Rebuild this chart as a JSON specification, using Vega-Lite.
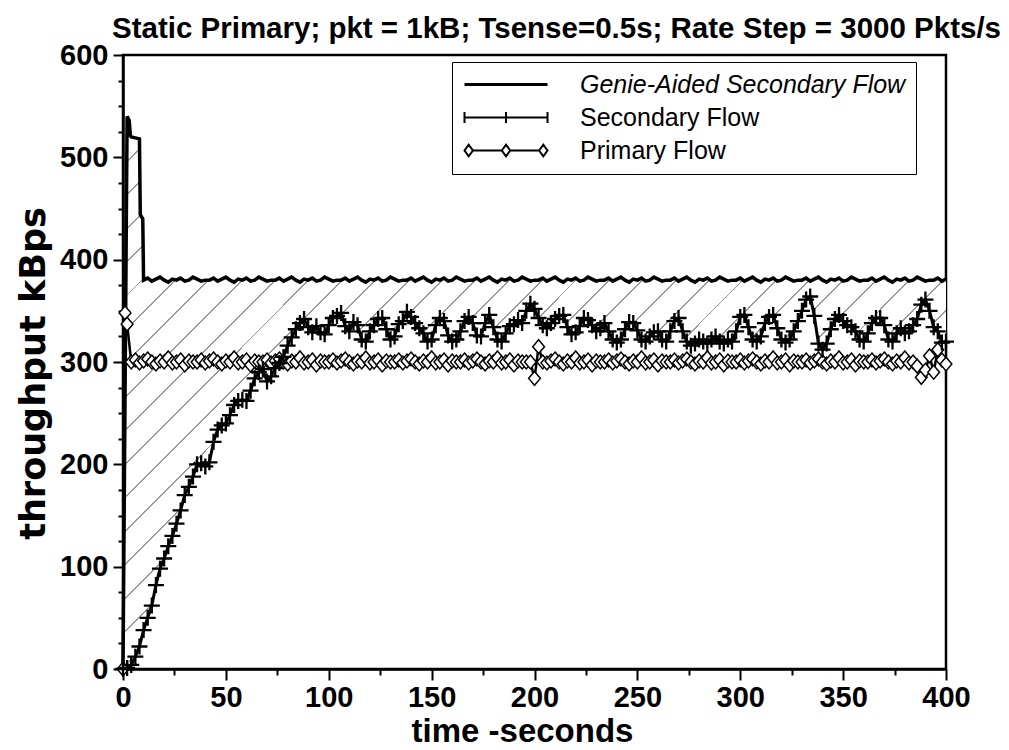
{
  "$schema": "https://vega.github.io/schema/vega-lite/v6.json",
  "width": 823,
  "height": 614,
  "autosize": {"type": "none"},
  "padding": {"left": 123, "top": 55, "right": 63, "bottom": 81},
  "background": "white",
  "title": {"text": "Static Primary; pkt = 1kB; Tsense=0.5s; Rate Step = 3000 Pkts/s", "font": "Liberation Sans", "fontSize": 29.5, "fontWeight": "bold", "color": "black", "anchor": "middle", "dx": 22, "offset": -3},
  "config": {
    "view": {"stroke": "black", "strokeWidth": 2.5},
    "mark": {"invalid": "filter"},
    "axis": {"grid": false, "domainColor": "black", "domainWidth": 2.5, "tickColor": "black", "tickWidth": 2, "labelFont": "Liberation Sans", "labelFontSize": 29, "labelFontWeight": "bold", "labelColor": "black", "labelFlush": false, "labelOverlap": false, "titleColor": "black", "titleFontWeight": "bold"},
    "axisX": {"labelPadding": 3, "titleFont": "Liberation Sans", "titleFontSize": 33, "titlePadding": 3, "titleX": 399},
    "axisY": {"labelPadding": 5, "titleFont": "DejaVu Sans", "titleFontSize": 35, "titlePadding": 8, "titleY": 318}
  },
  "datasets": {
    "main": [
      {"time":0,"genie":0,"secondary":0,"primary":0},
      {"time":1,"primary":348},
      {"time":2,"genie":540,"secondary":1,"primary":337},
      {"time":3,"genie":536},
      {"time":3.6,"genie":521},
      {"time":4,"genie":520,"secondary":4,"primary":300},
      {"time":6,"genie":519,"secondary":12,"primary":302},
      {"time":8,"genie":518,"secondary":22,"primary":299},
      {"time":8.4,"genie":444},
      {"time":9.6,"genie":440},
      {"time":10,"genie":380,"secondary":38,"primary":301},
      {"time":12,"genie":382,"secondary":50,"primary":303},
      {"time":14,"genie":379,"secondary":62,"primary":300},
      {"time":16,"genie":381,"secondary":82,"primary":298},
      {"time":18,"genie":383,"secondary":98,"primary":301},
      {"time":20,"genie":380,"secondary":108,"primary":300},
      {"time":22,"genie":378,"secondary":120,"primary":304},
      {"time":24,"genie":381,"secondary":130,"primary":299},
      {"time":26,"genie":380,"secondary":142,"primary":300},
      {"time":28,"genie":382,"secondary":155,"primary":302},
      {"time":30,"genie":379,"secondary":170,"primary":297},
      {"time":32,"genie":380,"secondary":178,"primary":301},
      {"time":34,"genie":383,"secondary":188,"primary":300},
      {"time":36,"genie":381,"secondary":200,"primary":300},
      {"time":38,"genie":379,"secondary":201,"primary":302},
      {"time":40,"genie":380,"secondary":198,"primary":299},
      {"time":42,"genie":380,"secondary":202,"primary":301},
      {"time":44,"genie":382,"secondary":222,"primary":303},
      {"time":46,"genie":379,"secondary":234,"primary":300},
      {"time":48,"genie":381,"secondary":238,"primary":298},
      {"time":50,"genie":383,"secondary":240,"primary":301},
      {"time":52,"genie":380,"secondary":248,"primary":300},
      {"time":54,"genie":378,"secondary":258,"primary":304},
      {"time":56,"genie":381,"secondary":262,"primary":299},
      {"time":58,"genie":380,"secondary":263,"primary":300},
      {"time":60,"genie":382,"secondary":262,"primary":302},
      {"time":62,"genie":379,"secondary":272,"primary":297},
      {"time":64,"genie":380,"secondary":284,"primary":301},
      {"time":66,"genie":383,"secondary":290,"primary":300},
      {"time":68,"genie":381,"secondary":293,"primary":300},
      {"time":70,"genie":379,"secondary":281,"primary":302},
      {"time":72,"genie":380,"secondary":286,"primary":299},
      {"time":74,"genie":380,"secondary":294,"primary":301},
      {"time":76,"genie":382,"secondary":299,"primary":303},
      {"time":78,"genie":379,"secondary":305,"primary":300},
      {"time":80,"genie":381,"secondary":316,"primary":298},
      {"time":82,"genie":383,"secondary":324,"primary":301},
      {"time":84,"genie":380,"secondary":332,"primary":300},
      {"time":86,"genie":378,"secondary":338,"primary":304},
      {"time":88,"genie":381,"secondary":342,"primary":299},
      {"time":90,"genie":380,"secondary":334,"primary":300},
      {"time":92,"genie":382,"secondary":329,"primary":302},
      {"time":94,"genie":379,"secondary":335,"primary":297},
      {"time":96,"genie":380,"secondary":329,"primary":301},
      {"time":98,"genie":383,"secondary":327,"primary":300},
      {"time":100,"genie":381,"secondary":336,"primary":300},
      {"time":102,"genie":379,"secondary":343,"primary":302},
      {"time":104,"genie":380,"secondary":345,"primary":299},
      {"time":106,"genie":380,"secondary":348,"primary":301},
      {"time":108,"genie":382,"secondary":335,"primary":303},
      {"time":110,"genie":379,"secondary":330,"primary":300},
      {"time":112,"genie":381,"secondary":339,"primary":298},
      {"time":114,"genie":383,"secondary":336,"primary":301},
      {"time":116,"genie":380,"secondary":322,"primary":300},
      {"time":118,"genie":378,"secondary":320,"primary":304},
      {"time":120,"genie":381,"secondary":330,"primary":299},
      {"time":122,"genie":380,"secondary":336,"primary":300},
      {"time":124,"genie":382,"secondary":342,"primary":302},
      {"time":126,"genie":379,"secondary":343,"primary":297},
      {"time":128,"genie":380,"secondary":332,"primary":301},
      {"time":130,"genie":383,"secondary":322,"primary":300},
      {"time":132,"genie":381,"secondary":325,"primary":300},
      {"time":134,"genie":379,"secondary":337,"primary":302},
      {"time":136,"genie":380,"secondary":340,"primary":299},
      {"time":138,"genie":380,"secondary":349,"primary":301},
      {"time":140,"genie":382,"secondary":344,"primary":303},
      {"time":142,"genie":379,"secondary":338,"primary":300},
      {"time":144,"genie":381,"secondary":333,"primary":298},
      {"time":146,"genie":383,"secondary":328,"primary":301},
      {"time":148,"genie":380,"secondary":320,"primary":300},
      {"time":150,"genie":378,"secondary":322,"primary":304},
      {"time":152,"genie":381,"secondary":336,"primary":299},
      {"time":154,"genie":380,"secondary":343,"primary":300},
      {"time":156,"genie":382,"secondary":340,"primary":302},
      {"time":158,"genie":379,"secondary":326,"primary":297},
      {"time":160,"genie":380,"secondary":320,"primary":301},
      {"time":162,"genie":383,"secondary":322,"primary":300},
      {"time":164,"genie":381,"secondary":330,"primary":300},
      {"time":166,"genie":379,"secondary":340,"primary":302},
      {"time":168,"genie":380,"secondary":344,"primary":299},
      {"time":170,"genie":380,"secondary":338,"primary":301},
      {"time":172,"genie":382,"secondary":326,"primary":303},
      {"time":174,"genie":379,"secondary":325,"primary":300},
      {"time":176,"genie":381,"secondary":338,"primary":298},
      {"time":178,"genie":383,"secondary":346,"primary":301},
      {"time":180,"genie":380,"secondary":334,"primary":300},
      {"time":182,"genie":378,"secondary":322,"primary":304},
      {"time":184,"genie":381,"secondary":320,"primary":299},
      {"time":186,"genie":380,"secondary":328,"primary":300},
      {"time":188,"genie":382,"secondary":335,"primary":302},
      {"time":190,"genie":379,"secondary":337,"primary":297},
      {"time":192,"genie":380,"secondary":341,"primary":301},
      {"time":194,"genie":383,"secondary":338,"primary":300},
      {"time":196,"genie":381,"secondary":350,"primary":300},
      {"time":198,"genie":379,"secondary":357,"primary":300},
      {"time":200,"genie":380,"secondary":352,"primary":284},
      {"time":202,"genie":380,"secondary":343,"primary":315},
      {"time":204,"genie":382,"secondary":336,"primary":300},
      {"time":206,"genie":379,"secondary":333,"primary":299},
      {"time":208,"genie":381,"secondary":338,"primary":301},
      {"time":210,"genie":383,"secondary":342,"primary":303},
      {"time":212,"genie":380,"secondary":345,"primary":300},
      {"time":214,"genie":378,"secondary":346,"primary":298},
      {"time":216,"genie":381,"secondary":334,"primary":301},
      {"time":218,"genie":380,"secondary":327,"primary":300},
      {"time":220,"genie":382,"secondary":329,"primary":304},
      {"time":222,"genie":379,"secondary":335,"primary":299},
      {"time":224,"genie":380,"secondary":343,"primary":300},
      {"time":226,"genie":383,"secondary":341,"primary":302},
      {"time":228,"genie":381,"secondary":336,"primary":297},
      {"time":230,"genie":379,"secondary":330,"primary":301},
      {"time":232,"genie":380,"secondary":333,"primary":300},
      {"time":234,"genie":380,"secondary":338,"primary":300},
      {"time":236,"genie":382,"secondary":330,"primary":302},
      {"time":238,"genie":379,"secondary":322,"primary":299},
      {"time":240,"genie":381,"secondary":319,"primary":301},
      {"time":242,"genie":383,"secondary":322,"primary":303},
      {"time":244,"genie":380,"secondary":332,"primary":300},
      {"time":246,"genie":378,"secondary":339,"primary":298},
      {"time":248,"genie":381,"secondary":338,"primary":301},
      {"time":250,"genie":380,"secondary":331,"primary":300},
      {"time":252,"genie":382,"secondary":322,"primary":304},
      {"time":254,"genie":379,"secondary":320,"primary":299},
      {"time":256,"genie":380,"secondary":325,"primary":300},
      {"time":258,"genie":383,"secondary":329,"primary":302},
      {"time":260,"genie":381,"secondary":330,"primary":297},
      {"time":262,"genie":379,"secondary":322,"primary":301},
      {"time":264,"genie":380,"secondary":320,"primary":300},
      {"time":266,"genie":380,"secondary":330,"primary":300},
      {"time":268,"genie":382,"secondary":340,"primary":302},
      {"time":270,"genie":379,"secondary":343,"primary":299},
      {"time":272,"genie":381,"secondary":330,"primary":301},
      {"time":274,"genie":383,"secondary":320,"primary":303},
      {"time":276,"genie":380,"secondary":316,"primary":300},
      {"time":278,"genie":378,"secondary":318,"primary":298},
      {"time":280,"genie":381,"secondary":322,"primary":301},
      {"time":282,"genie":380,"secondary":320,"primary":300},
      {"time":284,"genie":382,"secondary":318,"primary":304},
      {"time":286,"genie":379,"secondary":322,"primary":299},
      {"time":288,"genie":380,"secondary":325,"primary":300},
      {"time":290,"genie":383,"secondary":320,"primary":302},
      {"time":292,"genie":381,"secondary":318,"primary":297},
      {"time":294,"genie":379,"secondary":322,"primary":301},
      {"time":296,"genie":380,"secondary":320,"primary":300},
      {"time":298,"genie":380,"secondary":330,"primary":300},
      {"time":300,"genie":382,"secondary":344,"primary":302},
      {"time":302,"genie":379,"secondary":346,"primary":299},
      {"time":304,"genie":381,"secondary":334,"primary":301},
      {"time":306,"genie":383,"secondary":322,"primary":303},
      {"time":308,"genie":380,"secondary":320,"primary":300},
      {"time":310,"genie":378,"secondary":325,"primary":298},
      {"time":312,"genie":381,"secondary":338,"primary":301},
      {"time":314,"genie":380,"secondary":344,"primary":300},
      {"time":316,"genie":382,"secondary":346,"primary":304},
      {"time":318,"genie":379,"secondary":333,"primary":299},
      {"time":320,"genie":380,"secondary":322,"primary":300},
      {"time":322,"genie":383,"secondary":319,"primary":302},
      {"time":324,"genie":381,"secondary":322,"primary":297},
      {"time":326,"genie":379,"secondary":330,"primary":301},
      {"time":328,"genie":380,"secondary":340,"primary":300},
      {"time":330,"genie":380,"secondary":350,"primary":300},
      {"time":332,"genie":382,"secondary":361,"primary":302},
      {"time":334,"genie":379,"secondary":364,"primary":299},
      {"time":336,"genie":381,"secondary":345,"primary":301},
      {"time":338,"genie":383,"secondary":318,"primary":303},
      {"time":340,"genie":380,"secondary":312,"primary":300},
      {"time":342,"genie":378,"secondary":318,"primary":298},
      {"time":344,"genie":381,"secondary":332,"primary":301},
      {"time":346,"genie":380,"secondary":342,"primary":300},
      {"time":348,"genie":382,"secondary":346,"primary":304},
      {"time":350,"genie":379,"secondary":340,"primary":299},
      {"time":352,"genie":380,"secondary":336,"primary":300},
      {"time":354,"genie":383,"secondary":334,"primary":302},
      {"time":356,"genie":381,"secondary":330,"primary":297},
      {"time":358,"genie":379,"secondary":322,"primary":301},
      {"time":360,"genie":380,"secondary":320,"primary":300},
      {"time":362,"genie":380,"secondary":328,"primary":300},
      {"time":364,"genie":382,"secondary":338,"primary":302},
      {"time":366,"genie":379,"secondary":343,"primary":299},
      {"time":368,"genie":381,"secondary":343,"primary":301},
      {"time":370,"genie":383,"secondary":336,"primary":303},
      {"time":372,"genie":380,"secondary":322,"primary":300},
      {"time":374,"genie":378,"secondary":320,"primary":298},
      {"time":376,"genie":381,"secondary":328,"primary":301},
      {"time":378,"genie":380,"secondary":333,"primary":300},
      {"time":380,"genie":382,"secondary":328,"primary":304},
      {"time":382,"genie":379,"secondary":330,"primary":299},
      {"time":384,"genie":380,"secondary":336,"primary":300},
      {"time":386,"genie":383,"secondary":342,"primary":296},
      {"time":388,"genie":381,"secondary":356,"primary":285},
      {"time":390,"genie":379,"secondary":361,"primary":292},
      {"time":392,"genie":380,"secondary":350,"primary":306},
      {"time":394,"genie":380,"secondary":334,"primary":290},
      {"time":396,"genie":382,"secondary":330,"primary":312},
      {"time":398,"genie":379,"secondary":319,"primary":302},
      {"time":400,"genie":381,"secondary":320,"primary":298}
    ],
    "legendRows": [
      {"series": "Genie-Aided Secondary Flow"},
      {"series": "Secondary Flow"},
      {"series": "Primary Flow"}
    ]
  },
  "data": {"name": "main"},
  "encoding": {
    "x": {"field": "time", "type": "quantitative", "scale": {"domain": [0, 400], "nice": false, "zero": false},
      "axis": {"title": "time -seconds", "values": [0,25,50,75,100,125,150,175,200,225,250,275,300,325,350,375,400], "labelExpr": "datum.value % 50 === 0 ? datum.label : ''", "tickSize": {"condition": {"test": "datum.value % 50 === 0", "value": 11}, "value": 6}}}
  },
  "layer": [
    {
      "mark": {"type": "area", "interpolate": "linear", "fill": {"gradient": "linear", "x1": 0, "y1": 0, "x2": 1, "y2": 0.67, "stops": [
        {"offset":0.012,"color":"#ffffff"},{"offset":0.012,"color":"#999999"},{"offset":0.0136,"color":"#999999"},{"offset":0.0136,"color":"#ffffff"},
        {"offset":0.040,"color":"#ffffff"},{"offset":0.040,"color":"#999999"},{"offset":0.0416,"color":"#999999"},{"offset":0.0416,"color":"#ffffff"},
        {"offset":0.068,"color":"#ffffff"},{"offset":0.068,"color":"#999999"},{"offset":0.0696,"color":"#999999"},{"offset":0.0696,"color":"#ffffff"},
        {"offset":0.096,"color":"#ffffff"},{"offset":0.096,"color":"#999999"},{"offset":0.0976,"color":"#999999"},{"offset":0.0976,"color":"#ffffff"},
        {"offset":0.124,"color":"#ffffff"},{"offset":0.124,"color":"#999999"},{"offset":0.1256,"color":"#999999"},{"offset":0.1256,"color":"#ffffff"},
        {"offset":0.152,"color":"#ffffff"},{"offset":0.152,"color":"#999999"},{"offset":0.1536,"color":"#999999"},{"offset":0.1536,"color":"#ffffff"},
        {"offset":0.180,"color":"#ffffff"},{"offset":0.180,"color":"#999999"},{"offset":0.1816,"color":"#999999"},{"offset":0.1816,"color":"#ffffff"},
        {"offset":0.208,"color":"#ffffff"},{"offset":0.208,"color":"#999999"},{"offset":0.2096,"color":"#999999"},{"offset":0.2096,"color":"#ffffff"},
        {"offset":0.236,"color":"#ffffff"},{"offset":0.236,"color":"#999999"},{"offset":0.2376,"color":"#999999"},{"offset":0.2376,"color":"#ffffff"},
        {"offset":0.264,"color":"#ffffff"},{"offset":0.264,"color":"#999999"},{"offset":0.2656,"color":"#999999"},{"offset":0.2656,"color":"#ffffff"},
        {"offset":0.292,"color":"#ffffff"},{"offset":0.292,"color":"#999999"},{"offset":0.2936,"color":"#999999"},{"offset":0.2936,"color":"#ffffff"},
        {"offset":0.320,"color":"#ffffff"},{"offset":0.320,"color":"#999999"},{"offset":0.3216,"color":"#999999"},{"offset":0.3216,"color":"#ffffff"},
        {"offset":0.348,"color":"#ffffff"},{"offset":0.348,"color":"#999999"},{"offset":0.3496,"color":"#999999"},{"offset":0.3496,"color":"#ffffff"},
        {"offset":0.376,"color":"#ffffff"},{"offset":0.376,"color":"#999999"},{"offset":0.3776,"color":"#999999"},{"offset":0.3776,"color":"#ffffff"},
        {"offset":0.404,"color":"#ffffff"},{"offset":0.404,"color":"#999999"},{"offset":0.4056,"color":"#999999"},{"offset":0.4056,"color":"#ffffff"},
        {"offset":0.432,"color":"#ffffff"},{"offset":0.432,"color":"#999999"},{"offset":0.4336,"color":"#999999"},{"offset":0.4336,"color":"#ffffff"},
        {"offset":0.460,"color":"#ffffff"},{"offset":0.460,"color":"#999999"},{"offset":0.4616,"color":"#999999"},{"offset":0.4616,"color":"#ffffff"},
        {"offset":0.488,"color":"#ffffff"},{"offset":0.488,"color":"#999999"},{"offset":0.4896,"color":"#999999"},{"offset":0.4896,"color":"#ffffff"},
        {"offset":0.516,"color":"#ffffff"},{"offset":0.516,"color":"#999999"},{"offset":0.5176,"color":"#999999"},{"offset":0.5176,"color":"#ffffff"},
        {"offset":0.544,"color":"#ffffff"},{"offset":0.544,"color":"#999999"},{"offset":0.5456,"color":"#999999"},{"offset":0.5456,"color":"#ffffff"},
        {"offset":0.572,"color":"#ffffff"},{"offset":0.572,"color":"#999999"},{"offset":0.5736,"color":"#999999"},{"offset":0.5736,"color":"#ffffff"},
        {"offset":0.600,"color":"#ffffff"},{"offset":0.600,"color":"#999999"},{"offset":0.6016,"color":"#999999"},{"offset":0.6016,"color":"#ffffff"},
        {"offset":0.628,"color":"#ffffff"},{"offset":0.628,"color":"#999999"},{"offset":0.6296,"color":"#999999"},{"offset":0.6296,"color":"#ffffff"},
        {"offset":0.656,"color":"#ffffff"},{"offset":0.656,"color":"#999999"},{"offset":0.6576,"color":"#999999"},{"offset":0.6576,"color":"#ffffff"},
        {"offset":0.684,"color":"#ffffff"},{"offset":0.684,"color":"#999999"},{"offset":0.6856,"color":"#999999"},{"offset":0.6856,"color":"#ffffff"},
        {"offset":0.712,"color":"#ffffff"},{"offset":0.712,"color":"#999999"},{"offset":0.7136,"color":"#999999"},{"offset":0.7136,"color":"#ffffff"},
        {"offset":0.740,"color":"#ffffff"},{"offset":0.740,"color":"#999999"},{"offset":0.7416,"color":"#999999"},{"offset":0.7416,"color":"#ffffff"},
        {"offset":0.768,"color":"#ffffff"},{"offset":0.768,"color":"#999999"},{"offset":0.7696,"color":"#999999"},{"offset":0.7696,"color":"#ffffff"},
        {"offset":0.796,"color":"#ffffff"},{"offset":0.796,"color":"#999999"},{"offset":0.7976,"color":"#999999"},{"offset":0.7976,"color":"#ffffff"},
        {"offset":0.824,"color":"#ffffff"},{"offset":0.824,"color":"#999999"},{"offset":0.8256,"color":"#999999"},{"offset":0.8256,"color":"#ffffff"},
        {"offset":0.852,"color":"#ffffff"},{"offset":0.852,"color":"#999999"},{"offset":0.8536,"color":"#999999"},{"offset":0.8536,"color":"#ffffff"},
        {"offset":0.880,"color":"#ffffff"},{"offset":0.880,"color":"#999999"},{"offset":0.8816,"color":"#999999"},{"offset":0.8816,"color":"#ffffff"},
        {"offset":0.908,"color":"#ffffff"},{"offset":0.908,"color":"#999999"},{"offset":0.9096,"color":"#999999"},{"offset":0.9096,"color":"#ffffff"},
        {"offset":0.936,"color":"#ffffff"},{"offset":0.936,"color":"#999999"},{"offset":0.9376,"color":"#999999"},{"offset":0.9376,"color":"#ffffff"},
        {"offset":0.964,"color":"#ffffff"},{"offset":0.964,"color":"#999999"},{"offset":0.9656,"color":"#999999"},{"offset":0.9656,"color":"#ffffff"},
        {"offset":0.992,"color":"#ffffff"},{"offset":0.992,"color":"#999999"},{"offset":0.9936,"color":"#999999"},{"offset":0.9936,"color":"#ffffff"}
      ]}},
      "encoding": {
        "y": {"field": "secondary", "type": "quantitative", "scale": {"domain": [0, 600], "nice": false}, "title": "throughput kBps",
          "axis": {"values": [0,25,50,75,100,125,150,175,200,225,250,275,300,325,350,375,400,425,450,475,500,525,550,575,600], "labelExpr": "datum.value % 100 === 0 ? datum.label : ''", "tickSize": {"condition": {"test": "datum.value % 100 === 0", "value": 10}, "value": 5}}},
        "y2": {"field": "genie"}
      }
    },
    {
      "mark": {"type": "line", "color": "black", "strokeWidth": 3.5, "interpolate": "linear"},
      "encoding": {
        "y": {"field": "genie", "type": "quantitative", "scale": {"domain": [0, 600], "nice": false}, "title": "throughput kBps",
          "axis": {"values": [0,25,50,75,100,125,150,175,200,225,250,275,300,325,350,375,400,425,450,475,500,525,550,575,600], "labelExpr": "datum.value % 100 === 0 ? datum.label : ''", "tickSize": {"condition": {"test": "datum.value % 100 === 0", "value": 10}, "value": 5}}}
      }
    },
    {
      "mark": {"type": "line", "color": "black", "strokeWidth": 2.5, "interpolate": "linear"},
      "encoding": {
        "y": {"field": "primary", "type": "quantitative", "scale": {"domain": [0, 600], "nice": false}, "title": "throughput kBps",
          "axis": {"values": [0,25,50,75,100,125,150,175,200,225,250,275,300,325,350,375,400,425,450,475,500,525,550,575,600], "labelExpr": "datum.value % 100 === 0 ? datum.label : ''", "tickSize": {"condition": {"test": "datum.value % 100 === 0", "value": 10}, "value": 5}}}
      }
    },
    {
      "mark": {"type": "point", "shape": "M0,-1L0.85,0L0,1L-0.85,0Z", "size": 190, "filled": true, "fill": "white", "stroke": "black", "strokeWidth": 1.5, "opacity": 1},
      "encoding": {
        "y": {"field": "primary", "type": "quantitative", "scale": {"domain": [0, 600], "nice": false}, "title": "throughput kBps",
          "axis": {"values": [0,25,50,75,100,125,150,175,200,225,250,275,300,325,350,375,400,425,450,475,500,525,550,575,600], "labelExpr": "datum.value % 100 === 0 ? datum.label : ''", "tickSize": {"condition": {"test": "datum.value % 100 === 0", "value": 10}, "value": 5}}}
      }
    },
    {
      "mark": {"type": "line", "color": "black", "strokeWidth": 3, "interpolate": "linear"},
      "encoding": {
        "y": {"field": "secondary", "type": "quantitative", "scale": {"domain": [0, 600], "nice": false}, "title": "throughput kBps",
          "axis": {"values": [0,25,50,75,100,125,150,175,200,225,250,275,300,325,350,375,400,425,450,475,500,525,550,575,600], "labelExpr": "datum.value % 100 === 0 ? datum.label : ''", "tickSize": {"condition": {"test": "datum.value % 100 === 0", "value": 10}, "value": 5}}}
      }
    },
    {
      "mark": {"type": "point", "shape": "M-1,0L1,0M0,-1L0,1", "size": 256, "filled": false, "stroke": "black", "strokeWidth": 2.3, "opacity": 1},
      "encoding": {
        "y": {"field": "secondary", "type": "quantitative", "scale": {"domain": [0, 600], "nice": false}, "title": "throughput kBps",
          "axis": {"values": [0,25,50,75,100,125,150,175,200,225,250,275,300,325,350,375,400,425,450,475,500,525,550,575,600], "labelExpr": "datum.value % 100 === 0 ? datum.label : ''", "tickSize": {"condition": {"test": "datum.value % 100 === 0", "value": 10}, "value": 5}}}
      }
    },
    {
      "data": {"name": "legendRows"},
      "transform": [{"filter": "false"}],
      "mark": {"type": "point", "size": 400, "filled": false, "color": "black", "strokeWidth": 2, "opacity": 1},
      "encoding": {
        "x": {"field": "time", "type": "quantitative"},
        "shape": {"field": "series", "type": "nominal",
          "scale": {"domain": ["Genie-Aided Secondary Flow", "Secondary Flow", "Primary Flow"],
            "range": ["M-1,0L7.3,0", "M-1,0L7.3,0M-1,-0.55L-1,0.55M3.15,-0.55L3.15,0.55M7.3,-0.55L7.3,0.55", "M-0.16,0L2.73,0M3.57,0L6.46,0M-1,0L-0.58,-0.58L-0.16,0L-0.58,0.58ZM2.73,0L3.15,-0.58L3.57,0L3.15,0.58ZM6.46,0L6.88,-0.58L7.3,0L6.88,0.58Z"]},
          "legend": {"orient": "none", "legendX": 329, "legendY": 7, "title": null, "padding": 10, "strokeColor": "black", "fillColor": "white", "labelFont": "Liberation Sans", "labelFontSize": 25, "labelColor": "black", "labelOffset": 93, "rowPadding": 7, "labelLimit": 600, "symbolSize": 400, "symbolStrokeColor": "black", "symbolFillColor": "white",
            "labelFontStyle": {"expr": "datum.label === 'Genie-Aided Secondary Flow' ? 'italic' : 'normal'"},
            "symbolStrokeWidth": {"expr": "datum.label === 'Genie-Aided Secondary Flow' ? 3 : 2"}}}
      }
    }
  ]
}
